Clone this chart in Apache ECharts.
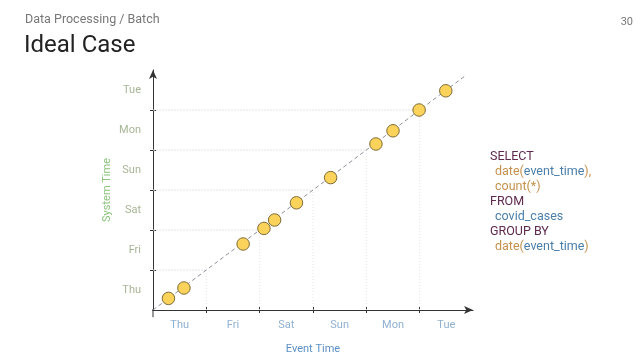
<!DOCTYPE html>
<html>
<head>
<meta charset="utf-8">
<script src="https://cdn.jsdelivr.net/npm/echarts@6/dist/echarts.min.js"></script>
<style>html,body{margin:0;padding:0;background:#fff}#c{width:640px;height:360px}</style>
</head>
<body>
<div id="c"></div>
<script>
const days = ['Thu', 'Fri', 'Sat', 'Sun', 'Mon', 'Tue'];
const eventTime  = [0.29, 0.58, 1.69, 2.08, 2.28, 2.69, 3.33, 4.18, 4.50, 4.99, 5.49];
const systemTime = [0.29, 0.55, 1.65, 2.04, 2.25, 2.68, 3.31, 4.15, 4.48, 5.00, 5.48];
const idealEnd = 5.86;
const dayBoundaries = [1, 2, 3, 4, 5];
const labelCenters = [0.5, 1.5, 2.5, 3.5, 4.5, 5.5];

const FONT = 'Roboto';
const chart = echarts.init(document.getElementById('c'), null, {renderer: 'canvas'});

const points = eventTime.map((x, i) => [x, systemTime[i]]);

const stairSeries = [];
dayBoundaries.forEach(k => {
  stairSeries.push({
    type: 'line', data: [[0, k], [k, k]], symbol: 'none', silent: true, z: 1,
    lineStyle: {color: '#e4e4e4', width: 1, type: [2, 1]}
  });
  stairSeries.push({
    type: 'line', data: [[k, 0], [k, k]], symbol: 'none', silent: true, z: 1,
    lineStyle: {color: '#e4e4e4', width: 1, type: [1, 2]}
  });
});

const baseX = {
  type: 'value', min: 0, max: 6, interval: 1, splitLine: {show: false}
};

chart.setOption({
  animation: false,
  grid: {left: 153, right: 167, top: 70, bottom: 50},
  xAxis: [
    Object.assign({}, baseX, {
      position: 'bottom',
      name: 'Event Time', nameLocation: 'middle', nameGap: 34,
      nameTextStyle: {color: '#5b8fc4', fontSize: 11, fontFamily: FONT},
      axisLine: {show: true, lineStyle: {color: '#333', width: 1}, symbol: ['none', 'arrow'], symbolSize: [6, 9]},
      axisTick: {show: true, length: 3, lineStyle: {color: '#333'}, customValues: dayBoundaries},
      axisLabel: {show: true, customValues: labelCenters, formatter: v => days[Math.floor(v)],
        color: '#8fb0d0', fontSize: 11, fontFamily: FONT, margin: 10}
    }),
    Object.assign({}, baseX, {
      position: 'bottom',
      axisLine: {show: false},
      axisTick: {show: true, inside: true, length: 3, lineStyle: {color: '#333'}, customValues: dayBoundaries},
      axisLabel: {show: false}
    })
  ],
  yAxis: [
    Object.assign({}, baseX, {
      position: 'left',
      name: 'System Time', nameLocation: 'middle', nameGap: 40,
      nameTextStyle: {color: '#8cc47c', fontSize: 11, fontFamily: FONT},
      axisLine: {show: true, lineStyle: {color: '#333', width: 1}, symbol: ['none', 'arrow'], symbolSize: [6, 9]},
      axisTick: {show: true, length: 3, lineStyle: {color: '#333'}, customValues: dayBoundaries},
      axisLabel: {show: true, customValues: labelCenters, formatter: v => days[Math.floor(v)],
        color: '#a6b594', fontSize: 11, fontFamily: FONT, margin: 12, padding: [10, 0, 0, 0]}
    }),
    Object.assign({}, baseX, {
      position: 'left',
      axisLine: {show: false},
      axisTick: {show: true, inside: true, length: 3, lineStyle: {color: '#333'}, customValues: dayBoundaries},
      axisLabel: {show: false}
    })
  ],
  series: stairSeries.concat([
    {
      type: 'line', data: [[-0.19, 0], [0, 0]], symbol: 'none', clip: false, silent: true,
      lineStyle: {color: '#333', width: 1}
    },
    {
      type: 'line', data: [[0, -0.18], [0, 0]], symbol: 'none', clip: false, silent: true,
      lineStyle: {color: '#333', width: 1}
    },
    {
      type: 'line', data: [[0, 0], [idealEnd, idealEnd]], symbol: 'none', silent: true, z: 2, clip: false,
      lineStyle: {color: '#8c909a', width: 1, type: [4, 3]}
    },
    {
      type: 'scatter', data: points, symbol: 'circle', symbolSize: 12.5, z: 5,
      itemStyle: {color: '#fbd35a', borderColor: '#7d6a36', borderWidth: 1, opacity: 1}
    }
  ]),
  graphic: [
    {type: 'text', left: 25, top: 13, style: {text: 'Data Processing / Batch', fill: '#777', fontSize: 12.5, fontFamily: FONT}},
    {type: 'text', left: 24, top: 34, style: {text: 'Ideal Case', fill: '#222', fontSize: 24, fontFamily: FONT}},
    {type: 'text', right: 7, top: 17, style: {text: '30', fill: '#777', fontSize: 11, fontFamily: FONT}},
    {
      type: 'text', left: 490, top: 149,
      style: {
        text: [
          '{k|SELECT}',
          '{i| }{f|date(}{b|event_time}{f|),}',
          '{i| }{f|count(*)}',
          '{k|FROM}',
          '{i| }{b|covid_cases}',
          '{k|GROUP BY}',
          '{i| }{f|date(}{b|event_time}{f|)}'
        ].join('\n'),
        fontFamily: FONT, fontSize: 12.5, lineHeight: 15,
        rich: {
          i: {width: 5, fontSize: 12.5, lineHeight: 15},
          k: {fill: '#5e2a4e', fontSize: 12.5, fontFamily: FONT, lineHeight: 15},
          f: {fill: '#c4914c', fontSize: 12.5, fontFamily: FONT, lineHeight: 15},
          b: {fill: '#4b7ea9', fontSize: 12.5, fontFamily: FONT, lineHeight: 15}
        }
      }
    }
  ]
});
</script>
</body>
</html>
